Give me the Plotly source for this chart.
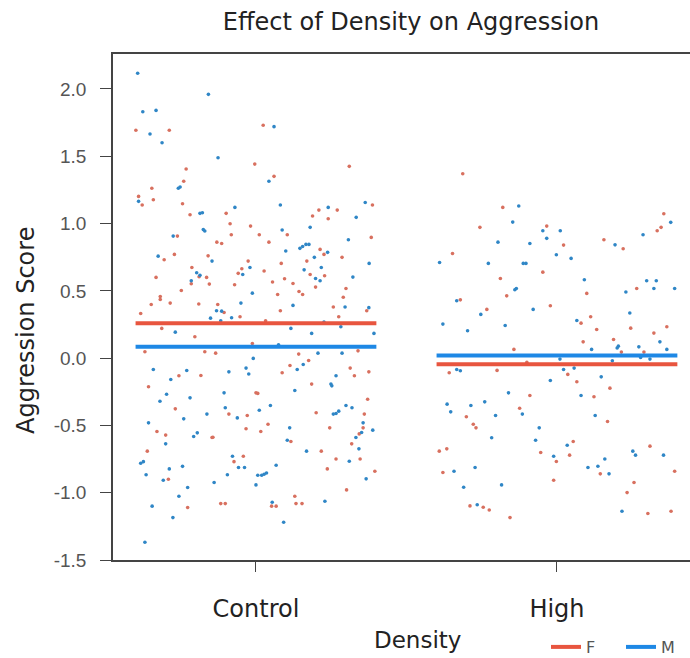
import plotly.graph_objects as go

# ---------------- data ----------------
categories = ["Control", "High"]
groups = ["F", "M"]

# Jitter offsets (in category units) and aggression scores
ctrl_f_jit = [-0.399,-0.288,0.024,-0.004,-0.232,0.310,0.060,-0.240,-0.346,-0.390,-0.378,-0.341,-0.244,-0.219,-0.099,0.387,0.209,0.270,0.188,0.240,
              -0.086,-0.018,0.104,-0.082,-0.261,0.011,0.043,-0.130,-0.114,0.383,-0.271,-0.305,-0.159,0.213,0.226,0.286,0.169,0.084,-0.026,-0.047,
              -0.059,-0.213,-0.189,-0.215,-0.164,-0.155,-0.332,0.027,0.180,0.228,0.095,0.055,0.123,0.198,-0.071,-0.248,0.072,0.143,0.155,0.299,
              0.290,-0.318,-0.318,-0.348,-0.285,-0.190,-0.127,0.257,
              -0.383,-0.106,-0.053,0.032,0.081,-0.313,-0.203,0.275,0.368,-0.012,-0.369,-0.170,-0.134,0.142,0.339,0.175,0.113,0.087,-0.256,-0.183,
              0.313,0.375,0.327,0.185,-0.357,0.000,0.006,0.371,-0.268,-0.090,-0.029,0.200,0.360,0.356,0.343,-0.329,-0.300,-0.146,-0.143,-0.033,
              0.016,0.040,0.116,0.245,0.318,-0.361,0.217,0.266,0.346,0.237,0.395,0.301,-0.042,-0.073,-0.291,-0.227,-0.117,-0.102,0.052,0.067,
              0.129,0.133,0.153]
ctrl_f_val = [1.693,1.693,1.730,1.442,1.405,1.425,1.351,1.314,1.262,1.202,1.138,1.177,1.147,1.066,1.076,1.138,1.100,1.100,1.056,1.036,
              0.999,0.981,0.917,0.917,0.907,0.917,0.862,0.862,0.852,0.897,0.771,0.731,0.760,0.808,0.771,0.749,0.721,0.704,0.721,0.664,
              0.630,0.674,0.605,0.553,0.600,0.550,0.600,0.647,0.622,0.612,0.590,0.566,0.555,0.528,0.545,0.503,0.473,0.495,0.473,0.518,
              0.453,0.458,0.436,0.399,0.409,0.402,0.399,0.380,
              0.332,0.339,0.307,0.277,0.352,0.221,0.159,0.307,0.352,0.109,0.047,0.047,0.037,0.030,0.054,-0.017,-0.055,-0.109,-0.131,-0.129,
              -0.074,-0.102,-0.131,-0.193,-0.213,-0.258,-0.262,-0.305,-0.377,-0.416,-0.426,-0.406,-0.416,-0.518,-0.563,-0.545,-0.572,-0.590,-0.588,-0.525,
              -0.545,-0.491,-0.620,-0.518,-0.637,-0.691,-0.691,-0.749,-0.749,-0.823,-0.840,-0.979,-0.729,-0.769,-0.900,-1.110,-1.081,-1.081,-1.100,-1.100,
              -1.026,-1.081,-1.081]

ctrl_m_jit = [-0.393,-0.158,-0.376,-0.332,-0.352,-0.312,0.060,-0.126,0.043,-0.258,-0.252,-0.390,-0.070,0.081,-0.186,-0.178,0.363,0.240,0.333,-0.175,
              -0.170,0.180,0.087,-0.275,0.307,0.146,0.155,0.166,0.176,-0.325,-0.146,0.099,0.238,0.194,0.376,-0.020,-0.044,-0.197,-0.186,-0.215,
              0.160,0.198,0.213,0.217,0.322,-0.012,-0.050,0.123,0.296,0.375,
              -0.151,-0.131,-0.114,-0.117,-0.081,0.116,-0.268,0.185,0.282,0.226,0.392,0.075,-0.009,0.206,0.286,0.157,0.137,-0.341,-0.230,-0.283,
              -0.090,-0.033,-0.024,0.266,0.249,0.252,0.129,-0.106,-0.297,-0.219,-0.319,-0.102,0.048,0.011,-0.163,-0.062,-0.240,0.257,0.266,0.275,
              0.299,0.319,0.356,0.351,0.332,0.388,-0.357,-0.300,-0.207,-0.195,0.112,0.104,0.342,-0.383,-0.374,-0.365,0.168,0.310,0.366,-0.078,
              -0.058,-0.038,0.067,-0.244,-0.288,-0.095,0.006,0.019,0.027,0.035,0.000,-0.308,-0.139,-0.227,-0.256,-0.345,-0.276,0.054,0.229,0.092,
              -0.369]
ctrl_m_val = [2.117,1.960,1.831,1.841,1.665,1.601,1.720,1.489,1.314,1.262,1.272,1.165,1.120,1.138,1.076,1.080,1.157,1.120,1.046,0.955,
              0.945,0.972,0.952,0.907,0.880,0.816,0.830,0.845,0.845,0.758,0.721,0.796,0.786,0.749,0.704,0.674,0.622,0.635,0.615,0.575,
              0.656,0.592,0.575,0.674,0.602,0.483,0.409,0.392,0.380,0.375,
              0.297,0.352,0.349,0.277,0.300,0.221,0.193,0.184,0.233,0.268,0.184,0.099,-0.002,0.037,0.037,-0.047,-0.084,-0.084,-0.092,-0.159,
              -0.102,-0.074,-0.118,-0.131,-0.193,-0.206,-0.240,-0.258,-0.268,-0.295,-0.320,-0.369,-0.352,-0.387,-0.416,-0.444,-0.451,-0.416,-0.411,-0.394,
              -0.352,-0.369,-0.481,-0.553,-0.590,-0.535,-0.481,-0.637,-0.582,-0.555,-0.518,-0.610,-0.674,-0.781,-0.769,-0.867,-0.691,-0.766,-0.897,-0.729,
              -0.813,-0.813,-0.796,-0.804,-0.823,-0.867,-0.870,-0.870,-0.863,-0.853,-0.942,-0.907,-0.924,-0.961,-1.026,-1.100,-1.185,-1.071,-1.063,-1.219,
              -1.368]

high_f_jit = [-0.313,-0.180,-0.256,-0.034,0.022,-0.347,0.156,0.220,0.333,0.346,0.355,-0.047,-0.188,-0.167,-0.321,0.099,-0.022,-0.233,0.265,0.112,
              0.080,0.132,0.245,0.365,0.322,0.087,0.188,-0.143,0.214,0.289,-0.100,-0.358,-0.199,0.036,0.066,0.176,-0.090,0.123,-0.124,-0.301,
              -0.278,-0.269,0.168,0.054,-0.391,-0.366,-0.054,0.042,-0.002,-0.379,0.144,0.309,0.391,-0.011,0.256,0.233,-0.289,-0.245,-0.225,-0.156,
              0.302,0.379]
high_f_val = [1.370,1.120,0.972,0.981,0.840,0.778,0.880,0.813,0.947,0.972,1.073,0.639,0.592,0.463,0.433,0.481,0.389,0.362,0.518,0.307,
              0.260,0.213,0.223,0.233,0.186,0.121,0.139,0.065,0.045,0.045,-0.030,-0.109,-0.091,-0.121,-0.176,-0.223,-0.278,-0.287,-0.372,-0.436,
              -0.491,-0.518,-0.471,-0.619,-0.691,-0.674,-0.701,-0.721,-0.768,-0.850,-0.860,-0.654,-0.840,-0.907,-0.924,-0.999,-1.098,-1.108,-1.128,-1.185,
              -1.155,-1.138]

high_m_jit = [-0.127,-0.147,-0.047,0.011,-0.034,-0.196,-0.090,-0.390,-0.228,-0.112,-0.103,-0.002,0.047,0.193,0.286,0.378,0.091,-0.140,-0.135,-0.333,
              -0.079,-0.253,-0.379,-0.297,-0.172,0.229,0.298,0.330,0.322,0.391,0.242,0.066,0.342,0.204,0.200,0.115,0.272,0.365,0.278,0.309,
              0.010,0.184,-0.333,-0.321,0.022,0.057,0.147,-0.022,-0.161,0.080,-0.365,-0.353,-0.286,-0.240,-0.115,-0.204,0.127,-0.059,-0.071,-0.217,
              0.034,-0.011,-0.272,-0.342,0.159,0.103,0.136,0.173,0.252,0.261,0.354,-0.310,-0.184,-0.265,0.216]
high_m_val = [1.130,1.011,0.947,0.947,0.890,0.862,0.852,0.711,0.704,0.704,0.704,0.768,0.741,0.842,0.917,1.009,0.582,0.508,0.518,0.426,
              0.362,0.325,0.253,0.203,0.243,0.491,0.575,0.575,0.518,0.518,0.335,0.280,0.121,0.089,0.075,0.065,0.084,0.065,0.005,-0.007,
              -0.007,-0.020,-0.084,-0.094,-0.084,-0.074,-0.139,-0.166,-0.258,-0.278,-0.342,-0.399,-0.352,-0.325,-0.416,-0.426,-0.426,-0.518,-0.610,-0.592,
              -0.647,-0.729,-0.813,-0.840,-0.749,-0.813,-0.803,-0.860,-0.691,-0.721,-0.721,-0.959,-0.942,-1.090,-1.138]

# group means (horizontal lines)
mean_f = [0.260, -0.045]
mean_m = [0.084, 0.020]
half_width = 0.4

# y axis ticks
y_ticks = [-1.5, -1.0, -0.5, 0.0, 0.5, 1.0, 1.5, 2.0]
y_tick_text = ["-1.5", "-1.0", "-0.5", "0.0", "0.5", "1.0", "1.5", "2.0"]

# ---------------- styling ----------------
RED_PT = "#D8705F"
BLUE_PT = "#2F86C6"
RED_LN = "#E8553F"
BLUE_LN = "#1E88E5"
FONT = "DejaVu Sans"
TICKFONT = "Liberation Sans"

fig = go.Figure()

def pts(jit, val, cat_index, color):
    fig.add_trace(go.Scatter(
        x=[cat_index + j for j in jit], y=val, mode="markers",
        marker=dict(color=color, size=3.6, line=dict(width=0)),
        showlegend=False, hoverinfo="skip"))

pts(ctrl_f_jit, ctrl_f_val, 0, RED_PT)
pts(ctrl_m_jit, ctrl_m_val, 0, BLUE_PT)
pts(high_f_jit, high_f_val, 1, RED_PT)
pts(high_m_jit, high_m_val, 1, BLUE_PT)

def mean_lines(means, color, name):
    xs, ys = [], []
    for i, m in enumerate(means):
        xs += [i - half_width, i + half_width, None]
        ys += [m, m, None]
    fig.add_trace(go.Scatter(x=xs, y=ys, mode="lines", name=name,
                             line=dict(color=color, width=4), hoverinfo="skip"))

mean_lines(mean_f, RED_LN, groups[0])
mean_lines(mean_m, BLUE_LN, groups[1])

W, H = 690, 658
L, R, T, B = 113, 0, 54, 98
pw, ph = W - L - R, H - T - B

def px_x(p):
    return (p - L) / pw

def px_y(p):
    return (H - B - p) / ph

fig.update_layout(
    width=W, height=H,
    margin=dict(l=L, r=R, t=T, b=B, pad=0, autoexpand=False),
    paper_bgcolor="white", plot_bgcolor="white",
    font=dict(family=FONT, color="#222"),
    title=dict(text="Effect of Density on Aggression", x=411 / W, xref="container", xanchor="center",
               y=1 - 22 / H, yref="container", yanchor="middle",
               font=dict(size=24, color="#222", family=FONT)),
    xaxis=dict(range=[-0.475, 1.442], tickmode="array", tickvals=[0, 1], ticktext=categories,
               showgrid=False, zeroline=False, showline=True, linecolor="#444", linewidth=1.5,
               mirror=True, ticks="outside", ticklen=10, tickcolor="#444", tickwidth=1.2,
               tickfont=dict(size=24, color="#222", family=FONT), ticklabelstandoff=16),
    yaxis=dict(range=[-1.5, 2.26], tickmode="array", tickvals=y_ticks, ticktext=y_tick_text,
               showgrid=False, zeroline=False, showline=True, linecolor="#444", linewidth=1.5,
               mirror=False, ticks="outside", ticklen=11, tickcolor="#444", tickwidth=1.2,
               tickfont=dict(size=19, color="#555", family=TICKFONT), ticklabelstandoff=10),
    legend=dict(orientation="h", x=px_x(546), xanchor="left", y=px_y(647), yanchor="middle",
                font=dict(size=16, color="#555", family=FONT), entrywidth=30, entrywidthmode="pixels",
                bgcolor="rgba(0,0,0,0)", itemwidth=30),
    annotations=[
        dict(text="Aggression Score", x=px_x(26), y=px_y(331), xref="paper", yref="paper",
             textangle=-90, showarrow=False, xanchor="center", yanchor="middle",
             font=dict(size=24, color="#222", family=FONT)),
        dict(text="Density", x=px_x(417), y=px_y(640), xref="paper", yref="paper",
             showarrow=False, xanchor="center", yanchor="middle",
             font=dict(size=23, color="#222", family=FONT)),
    ],
)

fig.write_html("out.html")
